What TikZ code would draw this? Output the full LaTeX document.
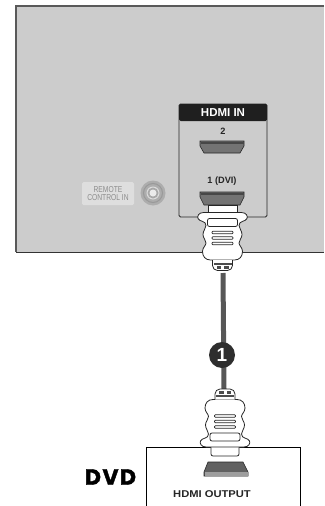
\documentclass[tikz,border=0pt]{standalone}
\usepackage{fontspec}
\setmainfont{Liberation Sans}
\newfontfamily\dvdfont[FakeBold=1.6]{Poppins}
\usepackage{tikz}

\begin{document}
\begin{tikzpicture}[x=1pt, y=-1pt,
    hdmibox/.style={rectangle, draw=black!85, line width=0.8pt, rounded corners=1.5pt, minimum width=88pt, minimum height=113pt, inner sep=0pt},
    header/.style={rectangle, fill=black!88, text=white, rounded corners=1.5pt, minimum width=88pt, minimum height=17pt, inner sep=0pt, font=\bfseries\fontsize{11.5}{12}\selectfont},
    portlabel/.style={inner sep=0pt, text=black!85, font=\bfseries\fontsize{9.2}{10}\selectfont},
    remote/.style={rectangle, fill=black!13, text=black!45, rounded corners=1.5pt, minimum width=52pt, minimum height=23pt, inner sep=0pt, align=center, font=\fontsize{8.6}{8}\selectfont},
    badge/.style={circle, fill=black!82, text=white, minimum size=26pt, inner sep=0pt, font=\bfseries\fontsize{19}{20}\selectfont},
    cable/.style={line width=5pt, draw=black!66},
    plugline/.style={draw=black!85, fill=white, line width=0.8pt},
    plug/.pic={
        \draw[plugline] (-19,0) -- (19,0) .. controls (24,0) and (25.5,4) .. (24.5,6)
            .. controls (23,9.5) and (16.5,8) .. (16.5,13) .. controls (16.5,16) and (19.5,18) .. (19.5,22)
            .. controls (19.5,26) and (16.5,27) .. (16.5,30.5) .. controls (16.5,33) and (20,35) .. (20,39)
            .. controls (20,44) and (17,47.5) .. (12,47.5) -- (-12,47.5)
            .. controls (-17,47.5) and (-20,44) .. (-20,39) .. controls (-20,35) and (-16.5,33) .. (-16.5,30.5)
            .. controls (-16.5,27) and (-19.5,26) .. (-19.5,22) .. controls (-19.5,18) and (-16.5,16) .. (-16.5,13)
            .. controls (-16.5,8) and (-23,9.5) .. (-24.5,6) .. controls (-25.5,4) and (-24,0) .. (-19,0) -- cycle;
        \draw[plugline, rounded corners=2pt] (-15,6) rectangle (15,14);
        \foreach \y in {20,25.5,31}
            \draw[plugline, line width=0.7pt, rounded corners=1pt] (-10.5,\y-1.3) rectangle (10.5,\y+1.3);
        \draw[plugline, rounded corners=2pt] (-10,47.5) -- (-10,55) -- (-7,58) -- (7,58) -- (10,55) -- (10,47.5);
        \fill[black!70] (-9,50.5) rectangle (9,52);
        \fill[black!70] (-6,53) rectangle (-1.5,56);
        \fill[black!70] (1.5,53) rectangle (6,56);
    }]

    \useasboundingbox (0,0) rectangle (324,506);

    % tv panel, open on the right
    \fill[black!20] (16,6) rectangle (324,252);
    \draw[black!65, line width=1.6pt] (324,6) -- (16,6) -- (16,252);
    \draw[black!80, line width=0.8pt] (16,252) -- (324,252);

    \node[remote] (remoteLabel) at (108,193.5) {\scalebox{0.78}[1]{REMOTE}\\\scalebox{0.78}[1]{CONTROL IN}};
    \fill[black!32] (153,193) circle (12.5pt);
    \draw[black!40, line width=1pt] (153,193) circle (9.5pt);
    \fill[black!14] (153,193) circle (6.5pt);
    \fill[black!34] (153,193) circle (5.5pt);
    \fill[black!8] (153,193) circle (3.5pt);

    \node[hdmibox] (hdmiIn) at (223,160.5) {};
    \node[header] (hdmiHead) at (223,112.5) {HDMI IN};
    \node[portlabel] (labelTwo) at (223,131) {2};
    \node[portlabel] (labelOne) at (222,181) {1 (DVI)};

    % hdmi port 2
    \draw[black!85, fill=black!55, line width=0.6pt] (200,141) -- (244,141) -- (244,146) -- (240,153) -- (204,153) -- (200,146) -- cycle;
    \fill[black!72] (200.5,141.5) rectangle (243.5,144);

    % hdmi port 1
    \draw[black!85, fill=black!55, line width=0.6pt] (200,192) -- (244,192) -- (244,197) -- (240,205) -- (204,205) -- (200,197) -- cycle;
    \fill[black!72] (200.5,192.5) rectangle (243.5,195);

    % dvd box, open at the bottom
    \draw[black, line width=1pt] (146,506) -- (146,447) -- (300,447) -- (300,506);
    \node[inner sep=0pt, font=\dvdfont\bfseries\fontsize{22}{24}\selectfont] (dvd) at (110.5,477) {D\kern1.5pt V\kern1.5pt D};
    \node[inner sep=0pt, text=black!85, font=\bfseries\fontsize{8.6}{10}\selectfont] (hdmiOut) at (212,494) {\scalebox{1.3}[1.15]{HDMI OUTPUT}};

    % hdmi output port
    \draw[black!85, fill=black!62, line width=0.6pt] (208,462) -- (243,462) -- (248,472) -- (248,476) -- (204,476) -- (204,472) -- cycle;
    \fill[black!38] (204.5,472) rectangle (247.5,475.5);

    \coordinate (plugTop) at (223,271);
    \coordinate (plugBottom) at (224,389);
    \draw[cable] (plugTop) ++(0,2) -- (plugBottom);
    \node[badge] (one) at (222,355) {1};

    % necks sit behind the plug bodies
    \draw[plugline] (208,212) -- (208,205) -- (237,205) -- (237,212);
    \draw[plugline, rounded corners=2pt] (211,447) -- (211,456) -- (239,456) -- (239,447);

    \pic at (222.5,212.5) {plug};
    \pic[yscale=-1] at (225,447) {plug};
\end{tikzpicture}
\end{document}
